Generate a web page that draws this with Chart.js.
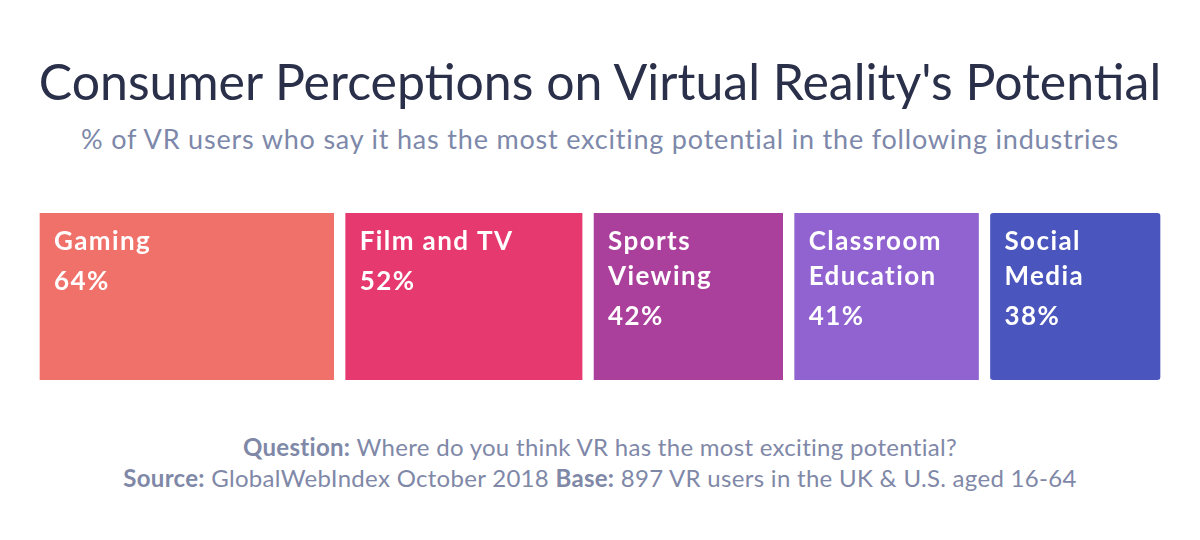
<!doctype html>
<html lang="en">
  <head>
    <script type="text/javascript" src="https://cdn.jsdelivr.net/npm/chart.js@4.4.0/dist/chart.umd.min.js"></script>
    <title>Consumer Perceptions on Virtual Reality's Potential</title>
    <style>
      body { margin: 0; width: 1200px; height: 540px; background: #fff; font-family: Lato, sans-serif; position: relative; overflow: hidden; }
      h1 { position: absolute; top: 51px; left: 0; width: 1200px; margin: 0; text-align: center; font-weight: 400; font-size: 50px; color: #2a3049; line-height: 60px; }
      h2 { position: absolute; top: 122px; left: 0; width: 1200px; margin: 0; text-align: center; font-weight: 400; font-size: 27px; letter-spacing: 0.8px; color: #7d88aa; line-height: 34px; }
      .foot { position: absolute; top: 431px; left: 0; width: 1200px; text-align: center; font-size: 24px; letter-spacing: 0.3px; color: #8088a8; line-height: 31px; }
      .foot b { font-weight: 700; }
      #wrap { position: absolute; left: 34px; top: 213px; width: 1132px; height: 167px; }
    </style>
  </head>
  <body>
    <h1>Consumer Perceptions on Virtual Reality's Potential</h1>
    <h2>% of VR users who say it has the most exciting potential in the following industries</h2>
    <div id="wrap"><canvas id="vrChart"></canvas></div>
    <div class="foot">
      <div><b>Question:</b> Where do you think VR has the most exciting potential?</div>
      <div><b>Source:</b> GlobalWebIndex October 2018 <b>Base:</b> 897 VR users in the UK &amp; U.S. aged 16-64</div>
    </div>

  <script>
    // industries and share of VR users (%)
    const industries = [['Gaming'], ['Film and TV'], ['Sports', 'Viewing'], ['Classroom', 'Education'], ['Social', 'Media']];
    const shares = [64, 52, 42, 41, 38];
    const colors = ['#f0716a', '#e5396f', '#ab3f9c', '#9063d1', '#4a55bd'];

    const gap = 6;

    const boxLabels = {
        id: 'boxLabels',
        afterDatasetsDraw(chart) {
            const ctx = chart.ctx;
            ctx.save();
            ctx.fillStyle = '#ffffff';
            ctx.font = 'bold 26px Lato, sans-serif';
            ctx.letterSpacing = '1.4px';
            ctx.textBaseline = 'alphabetic';
            ctx.textAlign = 'left';
            chart.data.datasets.forEach((ds, i) => {
                const bar = chart.getDatasetMeta(i).data[0];
                const left = Math.min(bar.x, bar.base) + gap + 14;
                let y = bar.y - bar.height / 2 + 37;
                industries[i].forEach(line => {
                    ctx.fillText(line, left, y);
                    y += 35;
                });
                ctx.fillText(shares[i] + '%', left, y + 5);
            });
            ctx.restore();
        }
    };

    new Chart(document.getElementById('vrChart'), {
        type: 'bar',
        data: {
            labels: ['VR'],
            datasets: industries.map((name, i) => ({
                label: name.join(' '),
                data: [shares[i]],
                backgroundColor: colors[i],
                borderColor: '#ffffff',
                borderWidth: { left: gap, right: gap, top: 0, bottom: 0 },
                borderSkipped: false,
                borderRadius: 9,
                barPercentage: 1,
                categoryPercentage: 1
            }))
        },
        options: {
            indexAxis: 'y',
            responsive: true,
            maintainAspectRatio: false,
            animation: false,
            layout: { padding: 0 },
            plugins: { legend: { display: false }, tooltip: { enabled: false } },
            scales: {
                x: { stacked: true, display: false, min: 0, max: shares.reduce((a, b) => a + b, 0) },
                y: { stacked: true, display: false }
            }
        },
        plugins: [boxLabels]
    });
  </script>
  </body>
</html>
